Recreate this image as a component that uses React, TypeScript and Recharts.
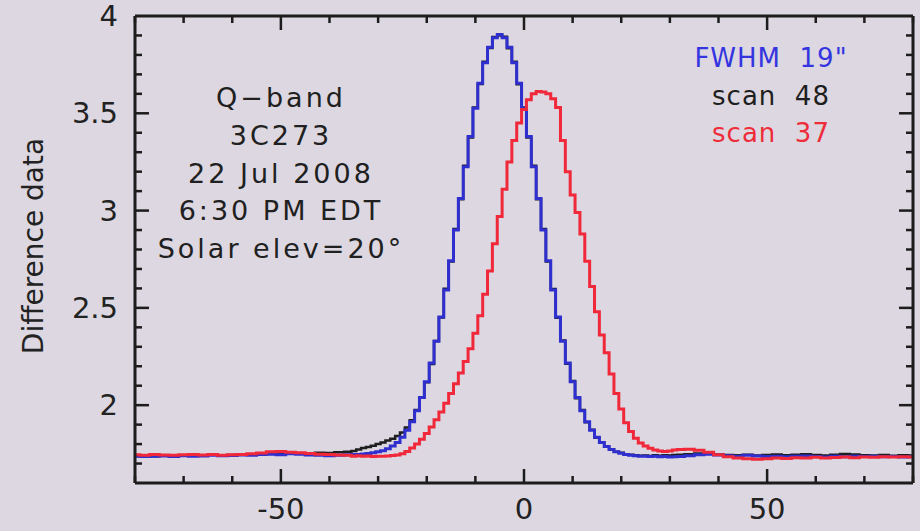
import { Line, LineChart, ReferenceLine, XAxis, YAxis } from 'recharts'

// Beam offset (arcsec) for each sample; coarser in the wings
const OFFSETS = [
  -80, -78, -76, -74, -72, -70, -68, -66, -64, -62, -60, -58, -56, -54, -52, -50, -48, -46, -44, -42, -40, -38, -36,
  -35, -34, -33, -32, -31, -30, -29, -28, -27, -26, -25, -24, -23, -22, -21, -20, -19, -18, -17, -16, -15, -14, -13,
  -12, -11, -10, -9, -8, -7, -6, -5, -4, -3, -2, -1, 0, 1, 2, 3, 4, 5, 6, 7, 8, 9, 10, 11, 12, 13, 14, 15, 16, 17,
  18, 19, 20, 21, 22, 23, 24, 25, 26, 27, 28, 29, 30, 31,
  32, 34, 36, 38, 40, 42, 44, 46, 48, 50, 52, 54, 56, 58, 60, 62, 64, 66, 68, 70, 72, 74, 76, 78, 80,
]

const SCAN_48 = [
  1.742, 1.74, 1.738, 1.741, 1.739, 1.743, 1.74, 1.742, 1.745, 1.741, 1.744, 1.748, 1.746, 1.75, 1.752, 1.749, 1.755,
  1.753, 1.751, 1.756, 1.754, 1.758, 1.76,
  1.765, 1.772, 1.78, 1.785, 1.792,
  1.8, 1.808, 1.818, 1.828, 1.842, 1.86, 1.885, 1.922, 1.975, 2.04,
  2.118, 2.212, 2.33, 2.45, 2.598, 2.738, 2.905, 3.058, 3.23, 3.376,
  3.53, 3.65, 3.765, 3.835, 3.892, 3.9, 3.893, 3.834, 3.765, 3.649,
  3.53, 3.376, 3.23, 3.058, 2.905, 2.738, 2.597, 2.449, 2.332, 2.213,
  2.124, 2.035, 1.975, 1.912, 1.874, 1.832, 1.81, 1.786, 1.774, 1.76,
  1.755, 1.748, 1.745, 1.742, 1.74, 1.741, 1.739, 1.742, 1.74, 1.743, 1.741, 1.744,
  1.745, 1.748, 1.752, 1.75, 1.746, 1.744, 1.742, 1.745, 1.741, 1.744, 1.746, 1.742, 1.745, 1.748, 1.744, 1.741,
  1.745, 1.749, 1.746, 1.743, 1.741, 1.744, 1.74, 1.742, 1.741,
]

// Gaussian beam, FWHM 19"
const BEAM_FIT = [
  1.738, 1.736, 1.737, 1.739, 1.736, 1.74, 1.738, 1.739, 1.742, 1.74, 1.741, 1.744, 1.743, 1.746, 1.748, 1.745, 1.75,
  1.748, 1.744, 1.742, 1.74, 1.742, 1.745,
  1.746, 1.747, 1.749, 1.752, 1.755,
  1.76, 1.766, 1.776, 1.79, 1.808, 1.835, 1.871, 1.915, 1.971, 2.039,
  2.12, 2.217, 2.328, 2.453, 2.592, 2.742, 2.9, 3.062, 3.225, 3.381,
  3.526, 3.654, 3.76, 3.839, 3.888, 3.905, 3.888, 3.839, 3.76, 3.654,
  3.526, 3.381, 3.225, 3.062, 2.9, 2.742, 2.592, 2.453, 2.328, 2.217,
  2.12, 2.039, 1.971, 1.915, 1.871, 1.835, 1.808, 1.788, 1.772, 1.761,
  1.753, 1.747, 1.743, 1.74, 1.738, 1.737, 1.736, 1.737, 1.735, 1.736, 1.734, 1.735,
  1.736, 1.74, 1.745, 1.748, 1.744, 1.74, 1.738, 1.742, 1.739, 1.736, 1.738, 1.735, 1.737, 1.739, 1.736, 1.734,
  1.737, 1.735, 1.738, 1.736, 1.737, 1.735, 1.736, 1.734, 1.735,
]

const SCAN_37 = [
  1.745, 1.743, 1.746, 1.744, 1.742, 1.745, 1.747, 1.744, 1.746, 1.743, 1.745, 1.747, 1.75, 1.754, 1.76, 1.762, 1.758,
  1.755, 1.752, 1.748, 1.746, 1.744, 1.742,
  1.738, 1.74, 1.737, 1.739, 1.736,
  1.738, 1.737, 1.739, 1.741, 1.744, 1.75, 1.762, 1.78, 1.8, 1.825,
  1.855, 1.888, 1.925, 1.965, 2.01, 2.06, 2.11, 2.165, 2.225, 2.29,
  2.37, 2.46, 2.57, 2.69, 2.83, 2.97, 3.11, 3.25, 3.36, 3.45,
  3.52, 3.57, 3.6, 3.612, 3.61, 3.6, 3.575, 3.53, 3.36, 3.2,
  3.08, 2.99, 2.88, 2.74, 2.61, 2.48, 2.36, 2.27, 2.16, 2.06,
  1.98, 1.91, 1.865, 1.83, 1.805, 1.79, 1.778, 1.77, 1.764, 1.762, 1.765, 1.77,
  1.772, 1.774, 1.768, 1.758, 1.745, 1.735, 1.728, 1.724, 1.722, 1.725, 1.728, 1.726, 1.73, 1.728, 1.732, 1.729,
  1.731, 1.733, 1.73, 1.734, 1.732, 1.735, 1.733, 1.735, 1.734,
]

const X_DOMAIN = [-80, 80]
const Y_DOMAIN = [1.6, 4]
const X_TICKS = [-80, -70, -60, -50, -40, -30, -20, -10, 0, 10, 20, 30, 40, 50, 60, 70, 80]
const X_LABELS = [-50, 0, 50]
const Y_TICKS = [
  1.7, 1.8, 1.9, 2, 2.1, 2.2, 2.3, 2.4, 2.5, 2.6, 2.7, 2.8, 2.9, 3, 3.1, 3.2, 3.3, 3.4, 3.5, 3.6, 3.7, 3.8, 3.9,
]
const Y_LABELS = [2, 2.5, 3, 3.5, 4]

const NOTES = ['Q−band', '3C273', '22 Jul 2008', '6:30 PM EDT', 'Solar elev=20°']
const KEY = [
  { text: 'FWHM  19"', color: '#3535e0' },
  { text: 'scan  48', color: '#1e1e1e' },
  { text: 'scan  37', color: '#ee2c3a' },
]

const data = OFFSETS.map((x, i) => ({ x, scan48: SCAN_48[i], fit: BEAM_FIT[i], scan37: SCAN_37[i] }))

const INK = '#1c1c1c'
const FONT = '"DejaVu Sans", sans-serif'
const MAJOR = 14
const MINOR = 7
// horizontal tick length expressed in x units (plot is 778px for 160 units)
const X_PER_PX = (X_DOMAIN[1] - X_DOMAIN[0]) / 778

// Inward x tick stubs: the reference line spans the whole plot height and
// the shape keeps only a short piece at the top and bottom.
const xStub = (len: number) => (p: any) => (
  <g>
    <line x1={p.x1} x2={p.x1} y1={Math.max(p.y1, p.y2)} y2={Math.max(p.y1, p.y2) - len} stroke={INK} strokeWidth={2.5} />
    <line x1={p.x1} x2={p.x1} y1={Math.min(p.y1, p.y2)} y2={Math.min(p.y1, p.y2) + len} stroke={INK} strokeWidth={2.5} />
  </g>
)

function XLabel({ x, y, payload }: any) {
  return (
    <text x={x} y={y + 26} textAnchor="middle" dominantBaseline="central" fontFamily={FONT} fontSize={29} fill="#222">
      {payload.value}
    </text>
  )
}

function YLabel({ x, y, payload }: any) {
  return (
    <text x={x - 17} y={y} textAnchor="end" dominantBaseline="central" fontFamily={FONT} fontSize={29} fill="#222">
      {payload.value}
    </text>
  )
}

export default function App() {
  const yTicks = [...Y_TICKS.map((v) => ({ v, len: Y_LABELS.includes(v) ? MAJOR : MINOR }))]
  return (
    <div style={{ position: 'absolute', left: 0, top: 0, width: 920, height: 531, background: '#dcd7e0', fontFamily: FONT }}>
      <LineChart width={920} height={531} data={data} margin={{ top: 16, right: 7, left: 0, bottom: 0 }}>
        <XAxis
          dataKey="x"
          type="number"
          domain={X_DOMAIN}
          ticks={X_LABELS}
          interval={0}
          height={48}
          tickSize={0}
          tickMargin={0}
          tickLine={false}
          axisLine={false}
          tick={XLabel}
        />
        <YAxis
          type="number"
          domain={Y_DOMAIN}
          ticks={Y_LABELS}
          interval={0}
          width={135}
          tickSize={0}
          tickMargin={0}
          tickLine={false}
          axisLine={false}
          tick={YLabel}
        />

        {X_TICKS.map((v) => (
          <ReferenceLine key={`x${v}`} x={v} shape={xStub(v % 50 === 0 ? MAJOR : MINOR)} />
        ))}
        {yTicks.map(({ v, len }) => (
          <ReferenceLine
            key={`yl${v}`}
            segment={[
              { x: X_DOMAIN[0], y: v },
              { x: X_DOMAIN[0] + len * X_PER_PX, y: v },
            ]}
            stroke={INK}
            strokeWidth={2.5}
          />
        ))}
        {yTicks.map(({ v, len }) => (
          <ReferenceLine
            key={`yr${v}`}
            segment={[
              { x: X_DOMAIN[1] - len * X_PER_PX, y: v },
              { x: X_DOMAIN[1], y: v },
            ]}
            stroke={INK}
            strokeWidth={2.5}
          />
        ))}

        <Line dataKey="scan48" type="step" stroke="#1e1e1e" strokeWidth={2.5} dot={false} isAnimationActive={false} />
        <Line dataKey="fit" type="step" stroke="#2f2fd0" strokeWidth={3} dot={false} isAnimationActive={false} />
        <Line dataKey="scan37" type="step" stroke="#f0283a" strokeWidth={3} dot={false} isAnimationActive={false} />

        {/* plot frame */}
        <ReferenceLine x={X_DOMAIN[0]} stroke={INK} strokeWidth={3} />
        <ReferenceLine x={X_DOMAIN[1]} stroke={INK} strokeWidth={3} />
        <ReferenceLine y={Y_DOMAIN[0]} stroke={INK} strokeWidth={3} />
        <ReferenceLine y={Y_DOMAIN[1]} stroke={INK} strokeWidth={3} />
      </LineChart>

      <div
        style={{
          position: 'absolute',
          left: 33,
          top: 246,
          transform: 'translate(-50%, -50%) rotate(-90deg)',
          whiteSpace: 'nowrap',
          fontSize: 28,
          color: '#222',
        }}
      >
        Difference data
      </div>

      {NOTES.map((line, i) => (
        <div
          key={line}
          style={{
            position: 'absolute',
            left: 281,
            top: 97 + i * 37.8,
            transform: 'translate(-50%, -50%)',
            whiteSpace: 'nowrap',
            fontSize: 27,
            letterSpacing: 3,
            color: '#202020',
          }}
        >
          {line}
        </div>
      ))}

      {KEY.map((k, i) => (
        <div
          key={k.text}
          style={{
            position: 'absolute',
            left: 771,
            top: 58 + i * 37.5,
            transform: 'translate(-50%, -50%)',
            whiteSpace: 'pre',
            fontSize: 26,
            letterSpacing: 1,
            color: k.color,
          }}
        >
          {k.text}
        </div>
      ))}
    </div>
  )
}
